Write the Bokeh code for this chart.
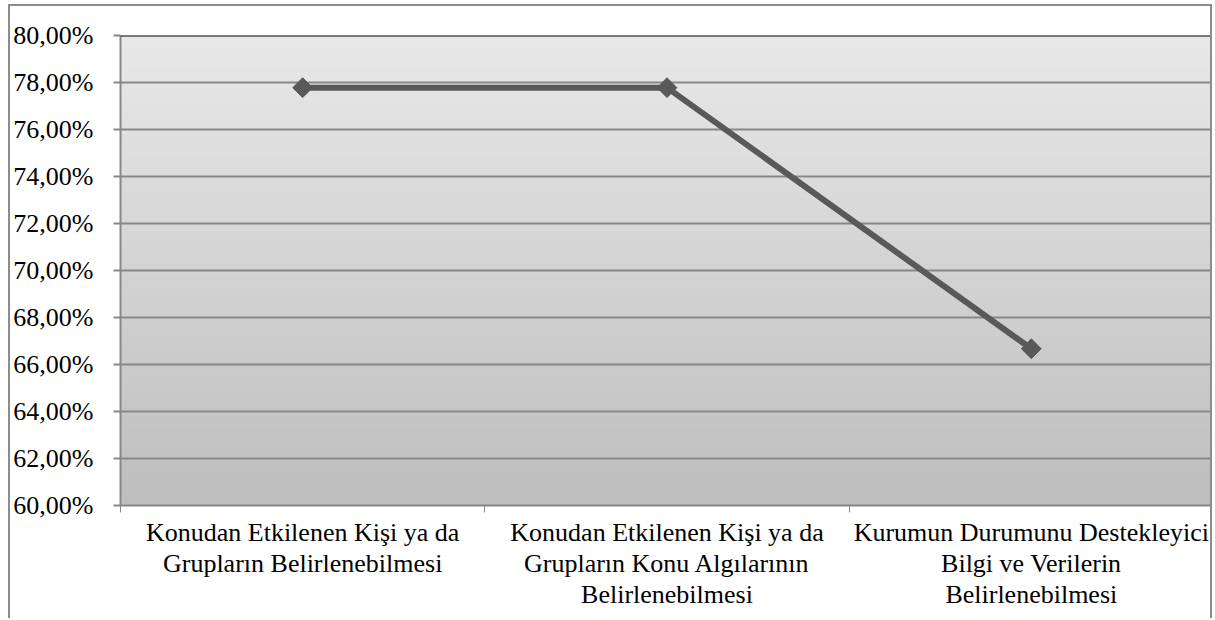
import numpy as np
from bokeh.plotting import figure
from bokeh.models import Range1d, FixedTicker, Span
from bokeh.embed import file_html
from bokeh.resources import INLINE

# ---- data ----
CATEGORIES = [
    "Konudan Etkilenen Kişi ya da\nGrupların Belirlenebilmesi",
    "Konudan Etkilenen Kişi ya da\nGrupların Konu Algılarının\nBelirlenebilmesi",
    "Kurumun Durumunu Destekleyici\nBilgi ve Verilerin\nBelirlenebilmesi",
]
VALUES = [0.7778, 0.7778, 0.6667]
Y_TICKS = [0.60, 0.62, 0.64, 0.66, 0.68, 0.70, 0.72, 0.74, 0.76, 0.78, 0.80]
Y_LABELS = ["60,00%", "62,00%", "64,00%", "66,00%", "68,00%", "70,00%",
            "72,00%", "74,00%", "76,00%", "78,00%", "80,00%"]

FONT = "Liberation Serif, Times New Roman, serif"
FS = "26px"
LINE_COLOR = "#595959"
GRID_COLOR = "#878787"
BORDER = "2px solid #8c8c8c"

x_pos = [i + 0.5 for i in range(len(CATEGORIES))]
bounds = list(range(len(CATEGORIES) + 1))

p = figure(width=1204, height=614, output_backend="svg", toolbar_location=None,
           x_range=Range1d(0, len(CATEGORIES)), y_range=Range1d(Y_TICKS[0], Y_TICKS[-1]),
           min_border_left=107, min_border_top=29, min_border_bottom=115, min_border_right=1)
p.styles = {"margin-left": "8px", "margin-top": "4px", "border-left": BORDER,
            "border-right": BORDER, "border-top": BORDER, "box-sizing": "border-box"}
p.outline_line_color = None
p.background_fill_color = "white"

# gradient plot area background
n = 256
t = np.linspace(0, 1, n)[:, None]  # bottom -> top
top = np.array([233, 233, 233]); bot = np.array([190, 190, 190])
rgb = (bot + (top - bot) * t).astype(np.uint32)
img = np.zeros((n, 2), dtype=np.uint32)
view = img.view(dtype=np.uint8).reshape((n, 2, 4))
for c in range(3):
    view[:, :, c] = rgb[:, c:c + 1]
view[:, :, 3] = 255
p.image_rgba(image=[img], x=0, y=Y_TICKS[0], dw=len(CATEGORIES), dh=Y_TICKS[-1] - Y_TICKS[0], level="image")

# grid
p.xgrid.grid_line_color = None
p.ygrid.ticker = FixedTicker(ticks=Y_TICKS)
p.ygrid.grid_line_color = GRID_COLOR
p.ygrid.grid_line_width = 2
p.add_layout(Span(location=Y_TICKS[-1], dimension="width", line_color="black", line_width=2))

# line + markers
p.line(x_pos, VALUES, line_color=LINE_COLOR, line_width=6)
p.scatter(x_pos, VALUES, marker="square", angle=np.pi / 4, size=14,
          fill_color=LINE_COLOR, line_color=LINE_COLOR)

# y axis
p.yaxis.ticker = FixedTicker(ticks=Y_TICKS)
p.yaxis.major_label_overrides = {t_: l for t_, l in zip(Y_TICKS, Y_LABELS)}
p.yaxis.axis_line_color = GRID_COLOR
p.yaxis.axis_line_width = 2
p.yaxis.major_tick_line_color = GRID_COLOR
p.yaxis.major_tick_line_width = 2
p.yaxis.major_tick_out = 7
p.yaxis.major_tick_in = 0
p.yaxis.minor_tick_line_color = None
p.yaxis.major_label_standoff = 20
p.yaxis.major_label_text_font = FONT
p.yaxis.major_label_text_font_size = FS
p.yaxis.major_label_text_color = "black"

# x axis
p.xaxis.ticker = FixedTicker(ticks=x_pos, minor_ticks=bounds)
p.xaxis.major_label_overrides = {x: c for x, c in zip(x_pos, CATEGORIES)}
p.xaxis.axis_line_color = GRID_COLOR
p.xaxis.axis_line_width = 2
p.xaxis.major_tick_line_color = None
p.xaxis.minor_tick_line_color = GRID_COLOR
p.xaxis.minor_tick_line_width = 1
p.xaxis.minor_tick_out = 7
p.xaxis.minor_tick_in = 0
p.xaxis.major_label_standoff = 5
p.xaxis.major_label_text_font = FONT
p.xaxis.major_label_text_font_size = FS
p.xaxis.major_label_text_color = "black"
p.xaxis.major_label_text_line_height = 1.08

open("out.html", "w").write(file_html(p, INLINE))
